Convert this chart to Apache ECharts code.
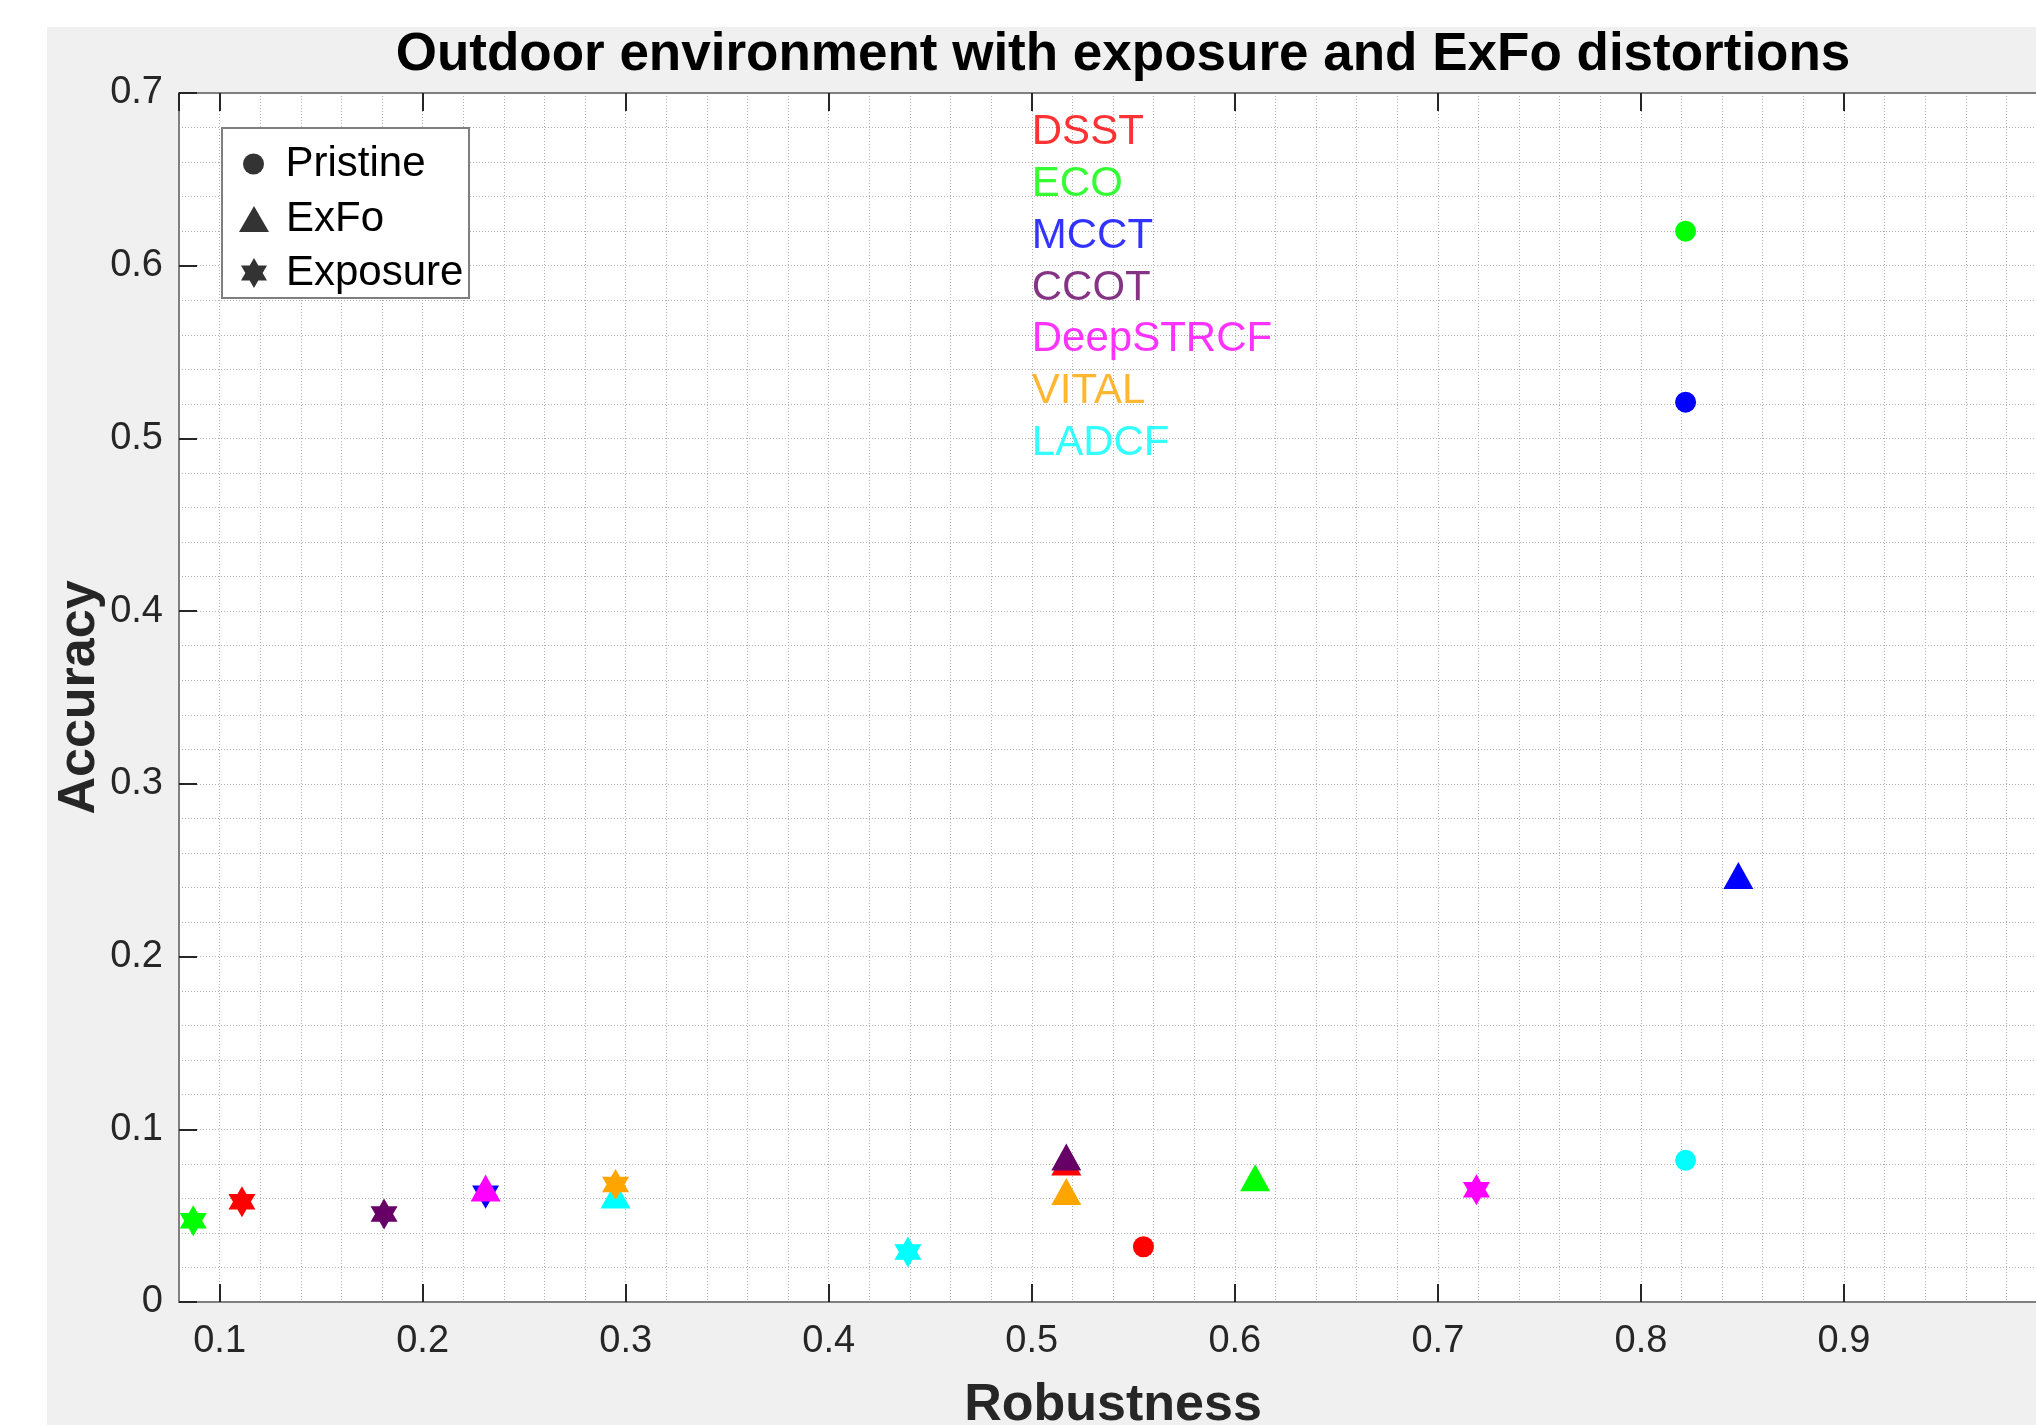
<!DOCTYPE html>
<html>
<head>
<meta charset="utf-8">
<script src="https://cdn.jsdelivr.net/npm/echarts@6/dist/echarts.min.js"></script>
<style>
html,body{margin:0;padding:0;width:2036px;height:1425px;overflow:hidden;background:#ffffff;}
#bg{position:absolute;left:47px;top:27px;width:2100px;height:1500px;background:#f0f0f0;}
#chart{position:absolute;left:0;top:0;width:2100px;height:1500px;}
</style>
</head>
<body>
<div id="bg"></div>
<div id="chart"></div>
<script>
// ---- data ----
const trackers = ['DSST', 'ECO', 'MCCT', 'CCOT', 'DeepSTRCF', 'VITAL', 'LADCF'];
const trackerColors = ['#ff0000', '#00ff00', '#0000ff', '#660066', '#ff00ff', '#ffa500', '#00ffff'];
const distortions = ['Pristine', 'ExFo', 'Exposure'];

// Robustness (x) / Accuracy (y) per tracker; null = not visible in the picture
const pristineRobustness = [0.555, 0.822, 0.822, null, null, null, 0.822];
const pristineAccuracy   = [0.032, 0.620, 0.521, null, null, null, 0.082];
const exfoRobustness     = [0.517, 0.610, 0.848, 0.517, 0.231, 0.517, 0.295];
const exfoAccuracy       = [0.081, 0.072, 0.247, 0.084, 0.066, 0.064, 0.062];
const exposureRobustness = [0.111, 0.087, 0.231, 0.181, 0.719, 0.295, 0.439];
const exposureAccuracy   = [0.058, 0.047, 0.063, 0.051, 0.065, 0.068, 0.029];

// axis ranges / ticks
const xMin = 0.08, xMax = 1.0, xStep = 0.1;
const yMin = 0, yMax = 0.7, yStep = 0.1;

// placement of the coloured tracker-name annotations (data coordinates)
const nameLabelX = 0.5, nameLabelTop = 0.68, nameLabelStep = 0.03;

// ---- styling ----
const FONT = '"Liberation Sans", Arial, Helvetica, sans-serif';
const HEXAGRAM = 'path://M0,-1L0.2887,-0.5L0.866,-0.5L0.5774,0L0.866,0.5L0.2887,0.5L0,1L-0.2887,0.5L-0.866,0.5L-0.5774,0L-0.866,-0.5L-0.2887,-0.5Z';
const TRIANGLE = 'path://M15,0L30,26L0,26Z';
const shapeSymbol = {Pristine: 'circle', ExFo: 'triangle', Exposure: HEXAGRAM};
const shapeSize = {Pristine: [21, 21], ExFo: [30, 27], Exposure: [27, 31]};
const dataByShape = {
  Pristine: [pristineRobustness, pristineAccuracy],
  ExFo: [exfoRobustness, exfoAccuracy],
  Exposure: [exposureRobustness, exposureAccuracy]
};
// stacking order seen in the picture (later = on top)
const drawOrder = [0, 1, 2, 3, 4, 6, 5];

const gridStyle = {color: '#b0b0b0', width: 1, type: [1, 2]};

const series = [];
// black dummy series that feed the legend
distortions.forEach(d => {
  series.push({
    type: 'scatter', name: d, data: [], symbol: shapeSymbol[d],
    itemStyle: {color: '#000000'}
  });
});
drawOrder.forEach(ti => {
  distortions.forEach(d => {
    const [xs, ys] = dataByShape[d];
    if (xs[ti] == null) return;
    series.push({
      type: 'scatter',
      name: trackers[ti] + ' ' + d,
      symbol: shapeSymbol[d],
      symbolSize: shapeSize[d],
      itemStyle: {color: trackerColors[ti], opacity: 1},
      data: [[xs[ti], ys[ti]]],
      z: 3
    });
  });
});
// coloured tracker names
series.push({
  type: 'scatter',
  name: 'names',
  symbolSize: 0,
  silent: true,
  z: 4,
  data: trackers.map((t, i) => ({
    name: t,
    value: [nameLabelX, nameLabelTop - nameLabelStep * i],
    label: {color: trackerColors[i]}
  })),
  label: {show: true, position: 'right', distance: 0, offset: [0, 5], formatter: '{b}', fontSize: 42, fontFamily: FONT}
});

const legendCommon = {
  orient: 'vertical', padding: 0, itemGap: 0, selectedMode: false, z: 6,
  symbolKeepAspect: true,
  textStyle: {fontSize: 42, color: '#000000', fontFamily: FONT}
};

const axisLineStyle = {show: true, onZero: false, lineStyle: {color: '#808080', width: 2}};
const tickStyle = {show: true, inside: true, length: 18, lineStyle: {color: '#262626', width: 2}};

const option = {
  animation: false,
  backgroundColor: 'transparent',
  textStyle: {fontFamily: FONT},
  grid: {left: 179, top: 93, width: 1868, height: 1209, show: true, backgroundColor: '#ffffff',
         borderWidth: 0, containLabel: false, outerBoundsMode: 'none'},
  xAxis: [{
    type: 'value', min: xMin, max: xMax, minInterval: xStep, maxInterval: xStep, position: 'bottom',
    axisLine: axisLineStyle, axisTick: tickStyle,
    axisLabel: {showMinLabel: false, showMaxLabel: true, color: '#262626', fontSize: 38, fontFamily: FONT, margin: 21},
    splitLine: {show: true, lineStyle: gridStyle},
    minorTick: {show: false, splitNumber: 5},
    minorSplitLine: {show: true, lineStyle: gridStyle},
    name: 'Robustness', nameLocation: 'middle', nameGap: 78, nameMoveOverlap: false,
    nameTextStyle: {fontSize: 52, fontWeight: 'bold', color: '#262626', fontFamily: FONT}
  }, {
    type: 'value', min: xMin, max: xMax, minInterval: xStep, maxInterval: xStep, position: 'top',
    axisLine: axisLineStyle, axisTick: tickStyle,
    axisLabel: {show: false}, splitLine: {show: false}
  }],
  yAxis: [{
    type: 'value', min: yMin, max: yMax, interval: yStep, position: 'left',
    axisLine: axisLineStyle, axisTick: tickStyle,
    axisLabel: {color: '#262626', fontSize: 38, fontFamily: FONT, margin: 16},
    splitLine: {show: true, lineStyle: gridStyle},
    minorTick: {show: false, splitNumber: 5},
    minorSplitLine: {show: true, lineStyle: gridStyle},
    name: 'Accuracy', nameLocation: 'middle', nameGap: 73, nameRotate: 90, nameMoveOverlap: false,
    nameTextStyle: {fontSize: 52, fontWeight: 'bold', color: '#262626', fontFamily: FONT}
  }],
  legend: [
    Object.assign({}, legendCommon, {left: 243, top: 143, itemWidth: 54, itemHeight: 21, data: [{name: 'Pristine', icon: 'circle'}]}),
    Object.assign({}, legendCommon, {left: 239, top: 198, itemWidth: 54, itemHeight: 26, data: [{name: 'ExFo', icon: TRIANGLE}]}),
    Object.assign({}, legendCommon, {left: 241, top: 252, itemWidth: 54, itemHeight: 30, data: [{name: 'Exposure', icon: HEXAGRAM}]})
  ],
  graphic: [
    {type: 'rect', z: 5, shape: {x: 222, y: 128, width: 247, height: 170},
     style: {fill: '#ffffff', stroke: '#7f7f7f', lineWidth: 2}},
    {type: 'text', z: 6, x: 1123, y: 55,
     style: {text: 'Outdoor environment with exposure and ExFo distortions', font: 'bold 53px ' + FONT,
             fill: '#000000', align: 'center', verticalAlign: 'middle'}}
  ],
  tooltip: {show: false},
  series: series
};

const chart = echarts.init(document.getElementById('chart'), null, {renderer: 'canvas'});
chart.setOption(option);
</script>
</body>
</html>
